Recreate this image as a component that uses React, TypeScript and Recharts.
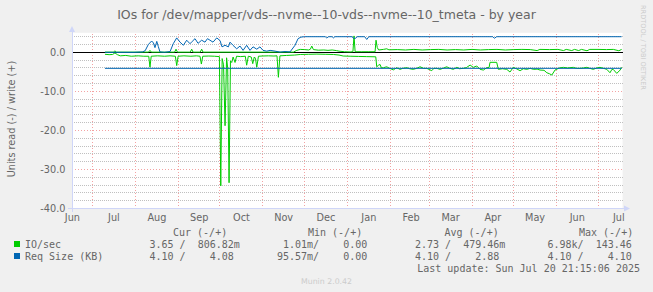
import { LineChart, Line, XAxis, YAxis, CartesianGrid, ReferenceLine } from "recharts";

// x values are days counted from 1 Jul 2024
const monthStarts = [0, 31, 62, 92, 123, 153, 184, 215, 243, 274, 304, 335, 365];
const monthTicks = [-14.5, 15.5, 46.5, 77, 107.5, 138, 168.5, 199.5, 230, 258.5, 289, 319.5, 350, 380];
const monthNames = ["Jun", "Jul", "Aug", "Sep", "Oct", "Nov", "Dec", "Jan", "Feb", "Mar", "Apr", "May", "Jun", "Jul"];
const yTicks = [-40, -30, -20, -10, 0];

// IO/sec read (drawn negative)
const ioRead: [number, number][] = [
  [9, -0.5], [12, -0.6], [14.5, -0.55], [16.2, -0.15], [18, -0.6], [20, -0.9], [24, -0.8], [28, -1.0],
  [33, -0.9], [37, -1.0], [40.6, -1.0], [41.5, -3.8], [42.4, -1.0], [47, -0.9], [52, -1.0], [56, -0.9],
  [59.8, -1.0], [60.8, -3.4], [61.8, -1.0], [66, -0.9], [71, -1.0], [75, -0.9], [77.6, -1.0], [78.6, -3.0],
  [79.6, -1.0], [84, -0.95], [88, -1.0], [91.6, -1.1], [92.6, -34.2], [93.6, -1.6], [94.6, -3.2], [95.7, -18.8],
  [96.8, -1.4], [97.6, -4.0], [98.6, -33.4], [99.6, -2.2], [100.5, -2.6], [101.5, -1.2], [102.9, -2.6], [104, -1.0],
  [107, -1.1], [110.3, -1.0], [111.3, -3.3], [112.5, -1.0], [114.6, -1.2], [115.7, -2.9], [116.8, -1.2], [117.6, -1.5],
  [118.6, -3.8], [119.8, -1.0], [122.4, -0.95], [127, -0.9], [131, -0.95], [133.2, -0.9], [134.2, -6.4], [135.3, -0.9],
  [140, -0.8], [146, -0.7], [150, -0.55], [156, -0.5], [162, -0.45], [168, -0.5], [174, -0.55], [178, -0.7],
  [181, -0.95], [186, -1.0], [192, -1.05], [198, -1.1], [204.5, -1.15], [205.2, -3.7], [206.5, -3.3], [207.6, -3.1],
  [208.6, -4.0], [210, -3.95], [212.4, -3.7], [214, -4.0], [217.2, -4.5], [219.6, -3.95], [222, -4.36], [224, -4.1],
  [226.9, -3.94], [229, -4.2], [231.6, -4.36], [234, -4.1], [236.5, -3.7], [239, -4.1], [241.3, -4.1], [244.9, -4.7],
  [246.5, -4.1], [248.5, -4.1], [250.9, -4.36], [253, -4.1], [255.7, -3.7], [258, -4.1], [260.5, -4.36], [263, -3.85],
  [265, -4.2], [267.7, -4.1], [270, -3.9], [272.6, -3.26], [274.9, -3.85], [277.4, -3.5], [279.8, -4.36], [282.2, -4.54],
  [284.6, -3.94], [286.3, -3.9], [287, -2.56], [291.8, -2.56], [293, -4.36], [296, -4.2], [299.1, -4.36], [301.4, -5.05],
  [303.8, -3.85], [306, -4.2], [308.7, -4.71], [311, -4.2], [313.5, -4.36], [316, -4.1], [318.3, -4.36], [321, -4.3],
  [323.1, -4.54], [326, -4.6], [328, -5.23], [330, -5.5], [331.6, -5.82], [333.9, -4.54], [337, -4.0], [339.9, -3.85],
  [343, -4.0], [347.1, -3.85], [349.5, -4.1], [352, -4.1], [354.5, -4.0], [356.8, -3.85], [359, -4.1], [361.6, -4.36],
  [364, -4.0], [366.4, -3.85], [369, -4.1], [371.3, -4.36], [373.6, -5.23], [375, -4.36], [376, -4.4], [378.5, -5.4],
  [380.9, -4.54], [382, -3.85],
];

// IO/sec write
const ioWrite: [number, number][] = [
  [9, 0.05], [15, 0.05], [16.2, 0.35], [17.4, 0.05], [40.5, 0.05], [41.5, 0.5], [42.5, 0.05], [59.3, 0.05],
  [60.3, 0.8], [61.3, 0.05], [70.6, 0.05], [71.6, 0.8], [72.6, 0.05], [77.8, 0.05], [78.8, 0.8], [79.8, 0.05],
  [145, 0.05], [147.5, 0.5], [150, 0.75], [153, 0.7], [156, 0.6], [157.3, 0.8], [158.3, 1.6], [159.5, 0.7],
  [163, 0.55], [167, 0.6], [170, 0.5], [173, 0.6], [176, 0.45], [178, 0.3], [182, 0.15], [186, 0.1],
  [188, 0.15], [188.8, 4.2], [189.6, 0.15], [194, 0.15], [199, 0.15], [204, 0.15], [204.7, 3.1], [205.6, 1.2],
  [206.6, 0.6], [210, 0.75], [212.4, 0.9], [214, 0.65], [220, 0.7], [226, 0.6], [232, 0.75], [238, 0.6],
  [244, 0.7], [250, 0.75], [256, 0.6], [262, 0.7], [268, 0.6], [274, 0.75], [280, 0.6], [286, 0.7],
  [292, 0.75], [298, 0.6], [304, 0.7], [310, 0.75], [316, 0.7], [321, 0.45], [323, 0.75], [330, 0.7],
  [336, 0.75], [340, 0.45], [342, 0.75], [346, 0.45], [348, 0.75], [351, 0.45], [353, 0.75], [357, 0.4],
  [359, 0.75], [365, 0.75], [371, 0.7], [376, 0.75], [380, 0.4], [382, 0.75],
];

// Req Size (KB) read (drawn negative)
const reqRead: [number, number][] = [[9, -4.1], [382, -4.1]];

// Req Size (KB) write
const reqWrite: [number, number][] = [
  [9, 0], [30, 0], [36, 0.1], [38, 0.4], [40.3, 2.0], [42.7, 2.9], [44, 2.4], [45.1, 1.2],
  [46.4, 2.8], [47.5, 1.5], [48.7, 0.1], [52, 0], [56, 0.2], [58.3, 2.2], [60.8, 3.7], [63.2, 2.6],
  [65.6, 1.8], [68, 3.1], [70.4, 2.2], [72, 2.8], [74, 3.5], [76.2, 2.3], [78.8, 3.1], [81.2, 2.6],
  [83, 3.5], [84.8, 3.1], [87, 2.6], [89.7, 3.7], [92.1, 3.0], [93.5, 1.4], [95.7, 1.8], [98.1, 1.4],
  [99.3, 2.6], [101.4, 1.8], [104.1, 0.9], [106.5, 1.6], [108.7, 0.5], [111.3, 1.8], [113.7, 0.5], [115.9, 1.4],
  [118.6, 0.8], [120.9, 1.4], [123.1, 0.5], [125.8, 0.3], [128.2, 0.5], [131.8, 0.3], [135.4, 0.05], [139, 0.2],
  [142.6, 0.1], [146.2, 1.8], [148.4, 3.5], [150.5, 3.9], [153, 4.0], [168, 4.0], [169.1, 3.7], [170.5, 4.0],
  [173, 4.0], [173.9, 3.7], [175, 4.0], [187.5, 4.0], [188.3, 3.6], [190, 3.6], [191, 4.0], [196.5, 4.0],
  [198, 3.3], [199.5, 4.0], [289, 4.0], [290.1, 3.6], [291.8, 4.0], [382, 4.0],
];

const seriesNames = ["IO/sec", "Req Size (KB)"];
const seriesColors = ["#00CC00", "#0066B3"];
const curText = ["3.65 /  806.82m", "4.10 /    4.08"];
const minText = [" 1.01m/    0.00", "95.57m/    0.00"];
const avgText = ["2.73 /  479.46m", "4.10 /    2.88"];
const maxText = ["6.98k/  143.46", "4.10 /    4.10"];

const rows = (pts: [number, number][]) => pts.map(([day, v]) => ({ day, v }));

const minorY: number[] = [];
for (let v = -38; v <= 4; v += 2) if (v % 10 !== 0) minorY.push(v);
const majorY = [-30, -20, -10];

const sans = "DejaVu Sans";
const mono = "DejaVu Sans Mono";
const txt = "#666666";
const axisColor = "#CFD6F8";
const minorGrid = "#c0c0c0";
const majorGrid = "#f3a3a3";

export default function App() {
  return (
    <div style={{ position: "absolute", left: 0, top: 0, width: 653, height: 292, background: "#f0f0f0" }}>
      <LineChart width={653} height={292} margin={{ top: 32.8, right: 30.4, bottom: 63.5, left: 12 }}>
        <CartesianGrid fill="#ffffff" horizontal={false} vertical={false} />
        {minorY.map((v) => (
          <ReferenceLine key={"h" + v} y={v} stroke={minorGrid} strokeWidth={1} strokeDasharray="1 1" shapeRendering="crispEdges" />
        ))}
        {majorY.map((v) => (
          <ReferenceLine key={"m" + v} y={v} stroke={majorGrid} strokeWidth={1} strokeDasharray="1 2" shapeRendering="crispEdges" />
        ))}
        {monthStarts.map((d) => (
          <ReferenceLine key={"v" + d} x={d} stroke={majorGrid} strokeWidth={1} strokeDasharray="1 2" shapeRendering="crispEdges" />
        ))}
        <XAxis
          type="number"
          dataKey="day"
          domain={[-14.8, 382.7]}
          allowDataOverflow
          ticks={monthTicks}
          interval={0}
          tickFormatter={(d: number) => monthNames[monthTicks.indexOf(d)]}
          axisLine={false}
          tickLine={false}
          tickSize={4}
          tickMargin={2}
          height={20}
          tick={{ fill: txt, fontSize: 9.72, fontFamily: sans }}
        />
        <YAxis
          type="number"
          domain={[-40, 5]}
          allowDataOverflow
          ticks={yTicks}
          interval={0}
          tickFormatter={(v: number) => v.toFixed(1)}
          axisLine={false}
          tickLine={false}
          tickSize={4}
          tickMargin={2.5}
          width={60}
          tick={{ fill: txt, fontSize: 9.72, fontFamily: sans }}
        />
        <ReferenceLine y={0} stroke="#000000" strokeWidth={1} shapeRendering="crispEdges" />
        <Line data={rows(ioRead)} dataKey="v" type="linear" stroke="#00CC00" strokeWidth={1} dot={false} isAnimationActive={false} />
        <Line data={rows(ioWrite)} dataKey="v" type="linear" stroke="#00CC00" strokeWidth={1} dot={false} isAnimationActive={false} />
        <Line data={rows(reqRead)} dataKey="v" type="linear" stroke="#0066B3" strokeWidth={1} dot={false} isAnimationActive={false} />
        <Line data={rows(reqWrite)} dataKey="v" type="linear" stroke="#0066B3" strokeWidth={1} dot={false} isAnimationActive={false} />
      </LineChart>
      <svg width={653} height={292} style={{ position: "absolute", left: 0, top: 0, pointerEvents: "none" }}>
        {/* axes with arrows */}
        <line x1={72} y1={212} x2={72} y2={30} stroke={axisColor} shapeRendering="crispEdges" />
        <polygon points="69,32 75,32 72,26" fill={axisColor} />
        <line x1={68} y1={208.5} x2={626} y2={208.5} stroke={axisColor} shapeRendering="crispEdges" />
        <polygon points="624,205.5 624,211.5 630,208.5" fill={axisColor} />

        <text x={326.5} y={18.5} textAnchor="middle" fontFamily={sans} fontSize={12.5} fill={txt}>
          IOs for /dev/mapper/vds--nvme--10-vds--nvme--10_tmeta - by year
        </text>
        <text x={0} y={0} transform="translate(641,5) rotate(90)" fontFamily={sans} fontSize={6.6} fill="#cccccc">
          RRDTOOL / TOBI OETIKER
        </text>
        <text x={0} y={0} transform="translate(14.5,119) rotate(-90)" textAnchor="middle" fontFamily={sans} fontSize={9.72} fill={txt}>
          Units read (-) / write (+)
        </text>

        <g fontFamily={mono} fontSize={10} fill={txt} style={{ whiteSpace: "pre" }}>
          <text x={173} y={236.3} xmlSpace="preserve">Cur (-/+)</text>
          <text x={308} y={236.3} xmlSpace="preserve">Min (-/+)</text>
          <text x={444.5} y={236.3} xmlSpace="preserve">Avg (-/+)</text>
          <text x={579} y={236.3} xmlSpace="preserve">Max (-/+)</text>
          {seriesNames.map((name, i) => {
            const y = 248 + i * 12;
            return (
              <g key={name}>
                <rect x={14} y={y - 7} width={6} height={6} fill={seriesColors[i]} />
                <text x={25} y={y} xmlSpace="preserve">{name}</text>
                <text x={149.5} y={y} xmlSpace="preserve">{curText[i]}</text>
                <text x={277} y={y} xmlSpace="preserve">{minText[i]}</text>
                <text x={415} y={y} xmlSpace="preserve">{avgText[i]}</text>
                <text x={547.5} y={y} xmlSpace="preserve">{maxText[i]}</text>
              </g>
            );
          })}
          <text x={640} y={272} textAnchor="end" xmlSpace="preserve">Last update: Sun Jul 20 21:15:06 2025</text>
        </g>
        <text x={326.5} y={284} textAnchor="middle" fontFamily={sans} fontSize={7.8} fill="#cccccc">
          Munin 2.0.42
        </text>
      </svg>
    </div>
  );
}
